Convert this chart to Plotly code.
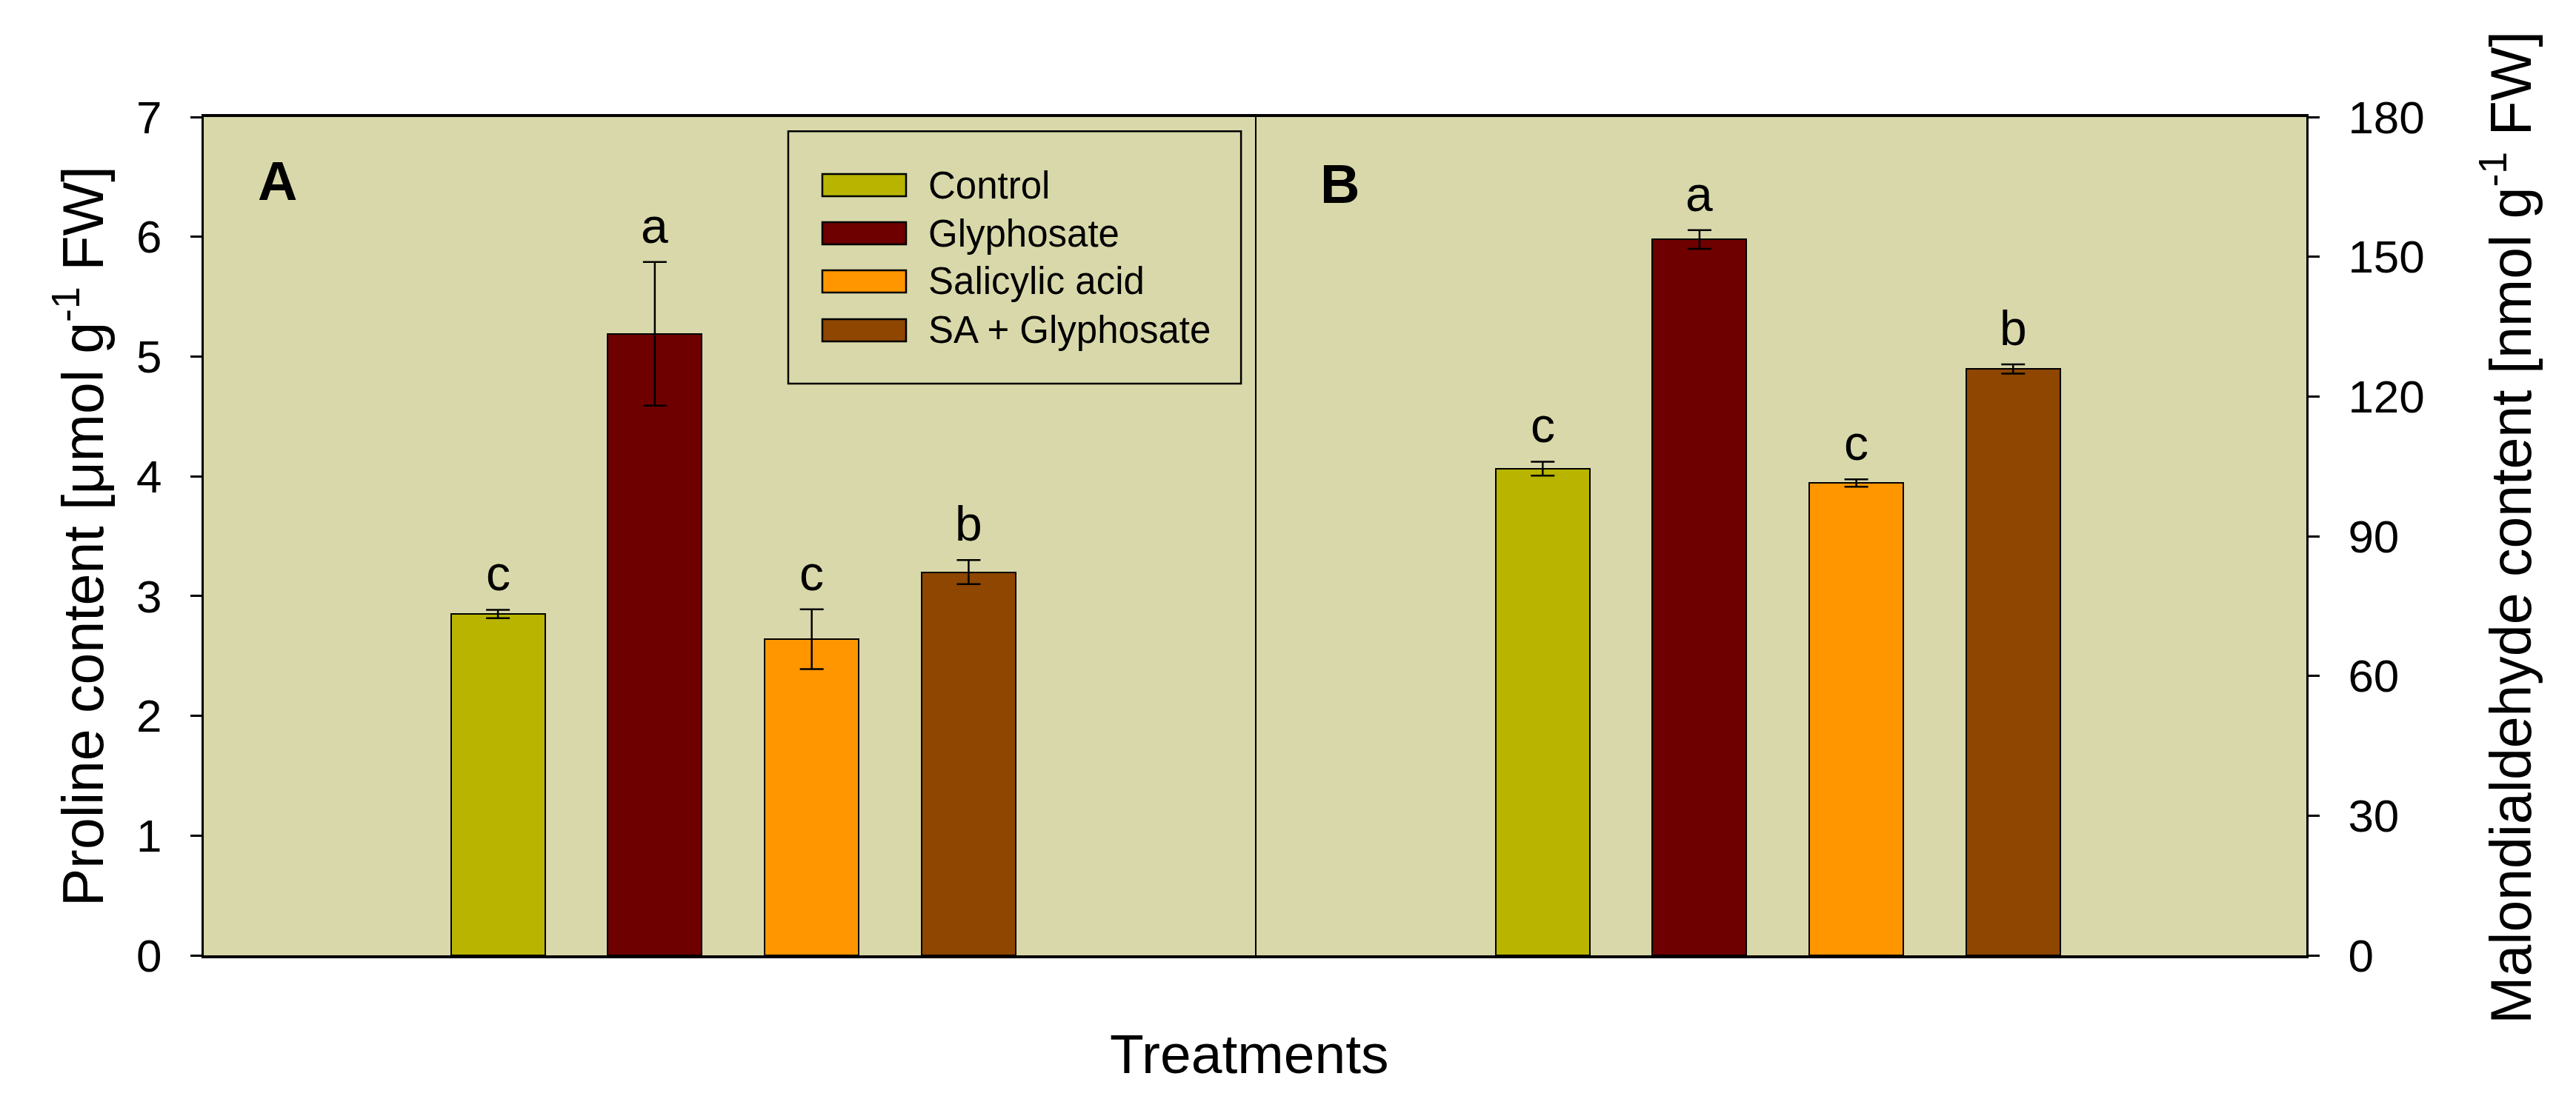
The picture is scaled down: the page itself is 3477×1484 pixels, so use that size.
import plotly.graph_objects as go

# ---- data ----
treatments = ["Control", "Glyphosate", "Salicylic acid", "SA + Glyphosate"]
bar_colors = ["#B8B400", "#6E0000", "#FF9600", "#8E4600"]
proline = [2.85, 5.19, 2.64, 3.20]
proline_err = [0.035, 0.60, 0.25, 0.10]
proline_letters = ["c", "a", "c", "b"]
mda = [104.5, 153.7, 101.4, 125.9]
mda_err = [1.5, 2.0, 0.8, 1.0]
mda_letters = ["c", "a", "c", "b"]
left_ticks = [0, 1, 2, 3, 4, 5, 6, 7]
right_ticks = [0, 30, 60, 90, 120, 150, 180]
panel_labels = ["A", "B"]

FONT = "Liberation Sans, Arial, sans-serif"
W, H = 3477, 1484
L, R, T, B = 267, 372, 150, 202
xpos = list(range(len(treatments)))

fig = go.Figure()
fig.add_trace(go.Bar(
    x=xpos, y=proline, width=0.6, xaxis="x", yaxis="y",
    marker=dict(color=bar_colors, line=dict(color="black", width=2)),
    error_y=dict(type="data", array=proline_err, color="black", thickness=2.5, width=16),
    showlegend=False, hovertext=treatments,
))
fig.add_trace(go.Bar(
    x=xpos, y=mda, width=0.6, xaxis="x2", yaxis="y2",
    marker=dict(color=bar_colors, line=dict(color="black", width=2)),
    error_y=dict(type="data", array=mda_err, color="black", thickness=2.5, width=16),
    showlegend=False, hovertext=treatments,
))

ann = []
for i, (v, e, t) in enumerate(zip(proline, proline_err, proline_letters)):
    ann.append(dict(x=i, y=v + e, xref="x", yref="y", text=t, showarrow=False,
                    xanchor="center", yanchor="bottom", yshift=10,
                    font=dict(size=66, color="black", family=FONT)))
for i, (v, e, t) in enumerate(zip(mda, mda_err, mda_letters)):
    ann.append(dict(x=i, y=v + e, xref="x2", yref="y2", text=t, showarrow=False,
                    xanchor="center", yanchor="bottom", yshift=10,
                    font=dict(size=66, color="black", family=FONT)))

# panel labels
ann.append(dict(x=0.0704, y=0.924, xref="x domain", yref="y domain", text="<b>%s</b>" % panel_labels[0],
                showarrow=False, xanchor="center", yanchor="middle",
                font=dict(size=74, color="black", family=FONT)))
ann.append(dict(x=0.0797, y=0.92, xref="x2 domain", yref="y2 domain", text="<b>%s</b>" % panel_labels[1],
                showarrow=False, xanchor="center", yanchor="middle",
                font=dict(size=74, color="black", family=FONT)))

# axis titles
ann.append(dict(x=(98 - L) / (W - L - R), y=0.5, xref="paper", yref="paper",
                text="Proline content [\u03bcmol g<sup>-1</sup> FW]", textangle=-90, showarrow=False,
                xanchor="center", yanchor="middle", font=dict(size=77, color="black", family=FONT)))
ann.append(dict(x=(3375 - L) / (W - L - R), y=0.51, xref="paper", yref="paper",
                text="Malondialdehyde content [nmol g<sup>-1</sup> FW]", textangle=-90, showarrow=False,
                xanchor="center", yanchor="middle", font=dict(size=77, color="black", family=FONT)))
ann.append(dict(x=(1678 - L) / (W - L - R), y=-(1415 - (H - B)) / (H - T - B), xref="paper", yref="paper",
                text="Treatments", showarrow=False, xanchor="center", yanchor="middle",
                font=dict(size=75, color="black", family=FONT)))

# legend (drawn manually in panel A coordinates)
shapes = []
shapes.append(dict(type="rect", xref="x domain", yref="y domain", x0=0.5556, x1=0.986, y0=0.682, y1=0.983,
                   line=dict(color="black", width=2.5), fillcolor="rgba(0,0,0,0)"))
row_y = [0.9187, 0.8613, 0.8039, 0.7456]
for name, col, ry in zip(treatments, bar_colors, row_y):
    shapes.append(dict(type="rect", xref="x domain", yref="y domain", x0=0.5880, x1=0.6676,
                       y0=ry - 0.0133, y1=ry + 0.0133, line=dict(color="black", width=2.5), fillcolor=col))
    ann.append(dict(x=0.6873, y=ry, xref="x domain", yref="y domain", text=name, showarrow=False,
                    xanchor="left", yanchor="middle", font=dict(size=51, color="black", family=FONT)))

# divider between panels
shapes.append(dict(type="line", xref="x domain", yref="y domain", x0=1, x1=1, y0=0, y1=1,
                   line=dict(color="black", width=2)))

split = (1687 - L) / (W - L - R)
axis_common = dict(showgrid=False, zeroline=False, showticklabels=False, ticks="",
                   showline=True, linecolor="black", linewidth=4, mirror=True, fixedrange=True)
fig.update_layout(
    width=W, height=H,
    margin=dict(l=L, r=R, t=T, b=B),
    paper_bgcolor="white", plot_bgcolor="#D9D8AA",
    font=dict(family=FONT, color="black"),
    bargap=0,
    xaxis=dict(domain=[0, split], range=[-1.875, 4.83], anchor="y", **axis_common),
    xaxis2=dict(domain=[split, 1], range=[-1.83, 4.87], anchor="y2", **axis_common),
    yaxis=dict(domain=[0, 1], range=[0, 7], anchor="x", tickvals=left_ticks,
               ticks="outside", ticklen=15, tickwidth=2.5, tickcolor="black",
               ticklabelstandoff=26, tickfont=dict(size=62, color="black", family=FONT),
               showline=True, linecolor="black", linewidth=3, showgrid=False, zeroline=False),
    yaxis2=dict(domain=[0, 1], range=[0, 180], anchor="x2", side="right", tickvals=right_ticks,
                ticks="outside", ticklen=15, tickwidth=2.5, tickcolor="black",
                ticklabelstandoff=26, tickfont=dict(size=62, color="black", family=FONT),
                showline=True, linecolor="black", linewidth=3, showgrid=False, zeroline=False),
    annotations=ann,
    shapes=shapes,
    showlegend=False,
)

fig.write_html("out.html")
